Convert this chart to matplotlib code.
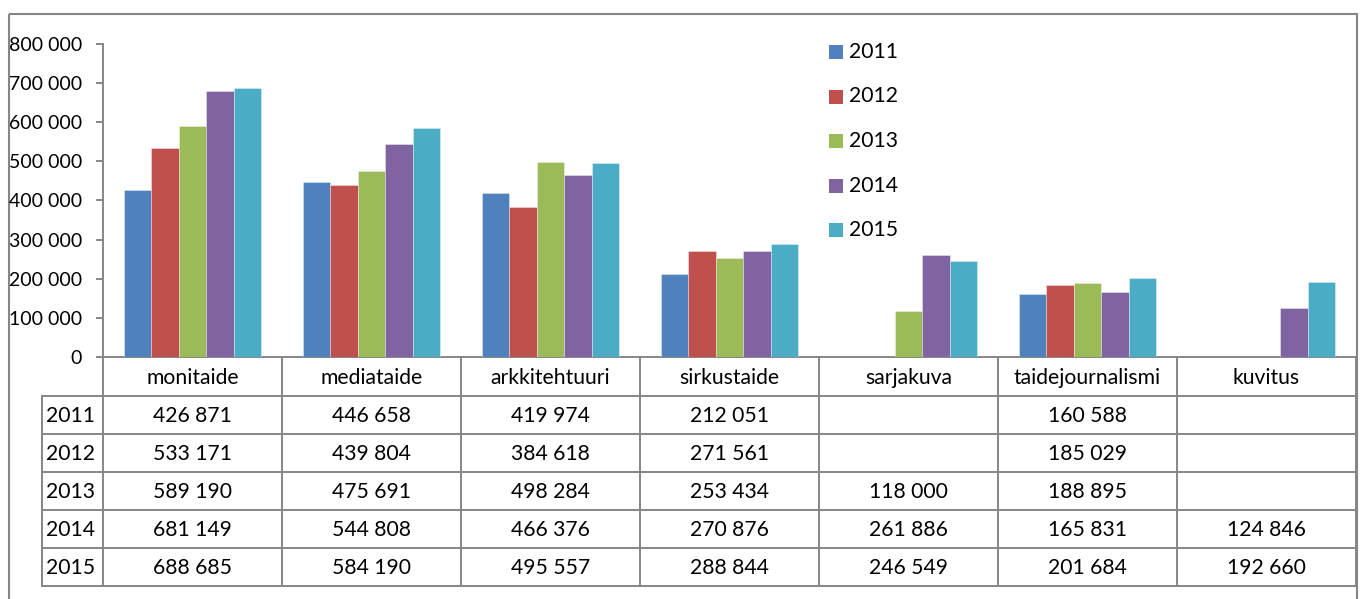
import matplotlib
matplotlib.use("Agg")
import matplotlib.pyplot as plt
from matplotlib.patches import Rectangle
import numpy as np

categories = ["monitaide", "mediataide", "arkkitehtuuri", "sirkustaide",
              "sarjakuva", "taidejournalismi", "kuvitus"]
years = ["2011", "2012", "2013", "2014", "2015"]
v2011 = [426871, 446658, 419974, 212051, None, 160588, None]
v2012 = [533171, 439804, 384618, 271561, None, 185029, None]
v2013 = [589190, 475691, 498284, 253434, 118000, 188895, None]
v2014 = [681149, 544808, 466376, 270876, 261886, 165831, 124846]
v2015 = [688685, 584190, 495557, 288844, 246549, 201684, 192660]
series = [v2011, v2012, v2013, v2014, v2015]
colors = ["#4F81BD", "#C0504D", "#9BBB59", "#8064A2", "#4BACC6"]
yticks = [0, 100000, 200000, 300000, 400000, 500000, 600000, 700000, 800000]

FONT = "Lato"
FS_TICK = 14
FS = 15.2
plt.rcParams["font.family"] = [FONT, "DejaVu Sans"]

W, H = 1360, 599
fig = plt.figure(figsize=(W / 100, H / 100), dpi=100)

# overlay in pixel coordinates
ov = fig.add_axes([0, 0, 1, 1])
ov.set_xlim(0, W)
ov.set_ylim(H, 0)
ov.axis("off")

x_left, x_right = 103, 1356
y_top, y_bot = 44, 357
ax = fig.add_axes([x_left / W, 1 - y_bot / H, (x_right - x_left) / W, (y_bot - y_top) / H])
ax.set_zorder(2)
ax.patch.set_alpha(0)

n = len(categories)
x = np.arange(n)
bw = 0.154
for j, (vals, c) in enumerate(zip(series, colors)):
    xs = [xi + (j - 2) * bw for xi, v in zip(x, vals) if v is not None]
    hs = [v for v in vals if v is not None]
    ax.bar(xs, hs, width=bw, color=c, edgecolor=(1, 1, 1, 0.5), linewidth=0.5)

ax.set_xlim(-0.5, n - 0.5)
ax.set_ylim(0, 800000)
ax.set_yticks(yticks)
ax.set_yticklabels([f"{t:,}".replace(",", " ") for t in yticks], fontsize=FS_TICK)
ax.tick_params(axis="y", length=5, width=1.4, color="#868686", pad=10)
ax.set_xticks([])
for s in ["top", "right", "bottom"]:
    ax.spines[s].set_visible(False)
ax.spines["left"].set_color("#868686")
ax.spines["left"].set_linewidth(1.4)

# outer border
ov.add_patch(Rectangle((9, 14), 1357 - 9, 620, fill=False, edgecolor="#868686", lw=1.5))

# legend
for j, (yr, c) in enumerate(zip(years, colors)):
    yc = 52 + j * 44.5
    ov.add_patch(Rectangle((829, yc - 7), 14, 14, facecolor=c, edgecolor="none"))
    ov.text(849, yc, yr, fontsize=FS, va="center", ha="left")

# data table
lc = "#868686"
lw = 1.4
colw = (x_right - x_left) / n
row_tops = [357, 396, 434, 472, 510, 548, 586]
lab_left = 42
ov.plot([x_left, x_right], [row_tops[0]] * 2, color=lc, lw=lw)
for yv in row_tops[1:]:
    ov.plot([lab_left, x_right], [yv, yv], color=lc, lw=lw)
ov.plot([lab_left, lab_left], [row_tops[1], row_tops[-1]], color=lc, lw=lw)
for i in range(n + 1):
    xv = x_left + i * colw
    ov.plot([xv, xv], [row_tops[0], row_tops[-1]], color=lc, lw=lw)
for i, cat in enumerate(categories):
    ov.text(x_left + (i + 0.5) * colw, (row_tops[0] + row_tops[1]) / 2 + 1, cat,
            fontsize=FS, ha="center", va="center")
for j, (yr, vals) in enumerate(zip(years, series)):
    yc = (row_tops[j + 1] + row_tops[j + 2]) / 2 + 1
    ov.text(46, yc, yr, fontsize=FS, ha="left", va="center")
    for i, v in enumerate(vals):
        if v is not None:
            ov.text(x_left + (i + 0.5) * colw, yc, f"{v:,}".replace(",", " "),
                    fontsize=FS, ha="center", va="center")

fig.savefig("out.png", dpi=100)
